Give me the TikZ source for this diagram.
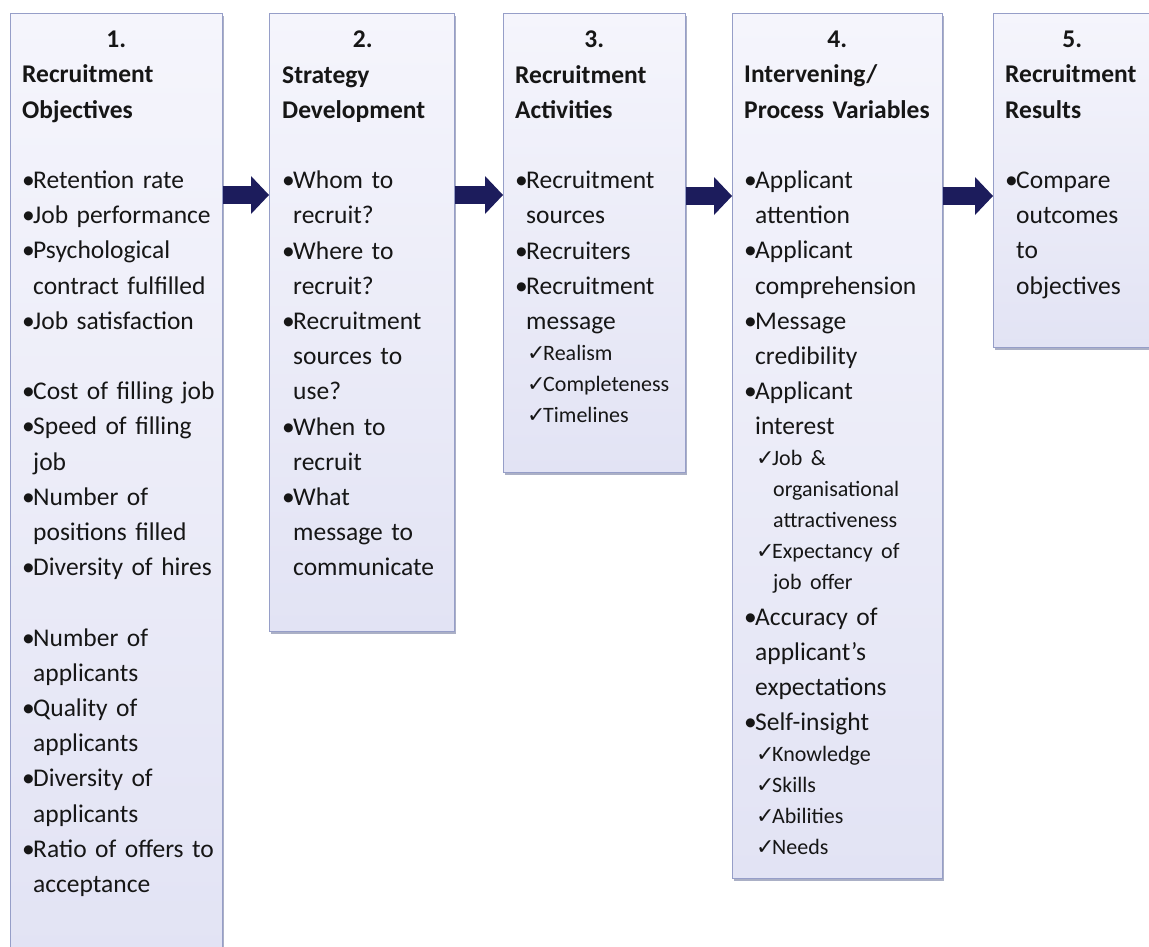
\documentclass[tikz,border=0pt]{standalone}
\usepackage{fontspec}
\setmainfont{Carlito}
\newfontfamily\tickfont{DejaVu Sans}
\usetikzlibrary{arrows.meta,shadows}

\definecolor{panelTop}{RGB}{245,245,252}
\definecolor{panelBottom}{RGB}{226,227,244}
\definecolor{panelEdge}{RGB}{150,158,200}
\definecolor{panelShade}{RGB}{70,80,130}
\definecolor{arrowNavy}{RGB}{28,28,92}
\definecolor{inkGrey}{RGB}{22,22,22}

\setlength{\parindent}{0pt}
\newcommand{\bigsz}{\fontsize{25.5pt}{35.2pt}\selectfont}
\newcommand{\smallsz}{\fontsize{22pt}{31pt}\selectfont}
% forced line break inside an item
\newcommand{\nl}{\unskip\nobreak\hfil\break}
% bullet and tick items, hanging indent for wrapped lines
\newcommand{\bul}{\par\bigsz\leftskip=0pt\hangindent=11pt\hangafter=1\noindent\makebox[11pt][l]{•}}
\newcommand{\chk}{\par\smallsz\leftskip=12pt\hangindent=17pt\hangafter=1\noindent\makebox[16pt][l]{\tickfont\fontsize{22pt}{31pt}\selectfont ✓}}
\newcommand{\gap}{\par\bigsz\leftskip=0pt\noindent\mbox{}\par}
\newcommand{\phead}[2]{{\bfseries\parfillskip=0pt\leftskip=0pt plus 1fil\rightskip=0pt plus 1fil\noindent #1\par}\noindent{\bfseries #2\par}}

\tikzset{
  panel/.style={draw=panelEdge, line width=0.8pt, top color=panelTop, bottom color=panelBottom,
    anchor=north west, inner sep=0pt,
    drop shadow={shadow xshift=1.5pt, shadow yshift=-2.5pt, opacity=0.45, fill=panelShade}},
  panel text/.style={anchor=north west, inner sep=0pt, text=inkGrey, font=\bigsz,
    execute at begin node={\rightskip=0pt minus 40pt\relax}},
  flow/.style={arrowNavy, line width=18pt, -{Triangle[length=18pt,width=38pt,line width=0pt]}}
}

\begin{document}
\begin{tikzpicture}[x=1pt,y=-1pt]
\useasboundingbox[fill=white] (0,0) rectangle (1149,946);

% the five stages
\node[panel, minimum width=212pt, minimum height=947pt] (b1) at (10,13) {};
\node[panel, minimum width=185pt, minimum height=618pt] (b2) at (269,13) {};
\node[panel, minimum width=182pt, minimum height=459pt] (b3) at (503,13) {};
\node[panel, minimum width=210pt, minimum height=865pt] (b4) at (732,13) {};
\node[panel, minimum width=158pt, minimum height=334pt] (b5) at (993,13) {};

\node[panel text, text width=188pt] (t1) at ([xshift=12pt,yshift=-18pt]b1.north west) {%
\phead{1.}{Recruitment\nl Objectives}
\gap
\bul Retention rate
\bul Job performance
\bul Psychological\nl contract fulfilled
\bul Job satisfaction
\gap
\bul Cost of filling job
\bul Speed of filling\nl job
\bul Number of\nl positions filled
\bul Diversity of hires
\gap
\bul Number of\nl applicants
\bul Quality of\nl applicants
\bul Diversity of\nl applicants
\bul Ratio of offers to\nl acceptance\par};

\node[panel text, text width=161pt] (t2) at ([xshift=13pt,yshift=-18pt]b2.north west) {%
\phead{2.}{Strategy\nl Development}
\gap
\bul Whom to\nl recruit?
\bul Where to\nl recruit?
\bul Recruitment\nl sources to\nl use?
\bul When to\nl recruit
\bul What\nl message to\nl communicate\par};

\node[panel text, text width=158pt] (t3) at ([xshift=12pt,yshift=-18pt]b3.north west) {%
\phead{3.}{Recruitment\nl Activities}
\gap
\bul Recruitment\nl sources
\bul Recruiters
\bul Recruitment\nl message
\chk Realism
\chk Completeness
\chk Timelines\par};

\node[panel text, text width=186pt] (t4) at ([xshift=12pt,yshift=-18pt]b4.north west) {%
\phead{4.}{Intervening/\nl Process Variables}
\gap
\bul Applicant\nl attention
\bul Applicant\nl comprehension
\bul Message\nl credibility
\bul Applicant\nl interest
\chk Job \&\nl organisational\nl attractiveness
\chk Expectancy of\nl job offer
\bul Accuracy of\nl applicant’s\nl expectations
\bul Self-insight
\chk Knowledge
\chk Skills
\chk Abilities
\chk Needs\par};

\node[panel text, text width=134pt] (t5) at ([xshift=12pt,yshift=-18pt]b5.north west) {%
\phead{5.}{Recruitment\nl Results}
\gap
\bul Compare\nl outcomes\nl to\nl objectives\par};

% arrows between stages
\draw[flow] ([yshift=-182pt]b1.north east) -- ([yshift=-182pt]b2.north west);
\draw[flow] ([yshift=-182pt]b2.north east) -- ([yshift=-182pt]b3.north west);
\draw[flow] ([yshift=-183pt]b3.north east) -- ([yshift=-183pt]b4.north west);
\draw[flow] ([yshift=-183pt]b4.north east) -- ([yshift=-183pt]b5.north west);
\end{tikzpicture}
\end{document}
